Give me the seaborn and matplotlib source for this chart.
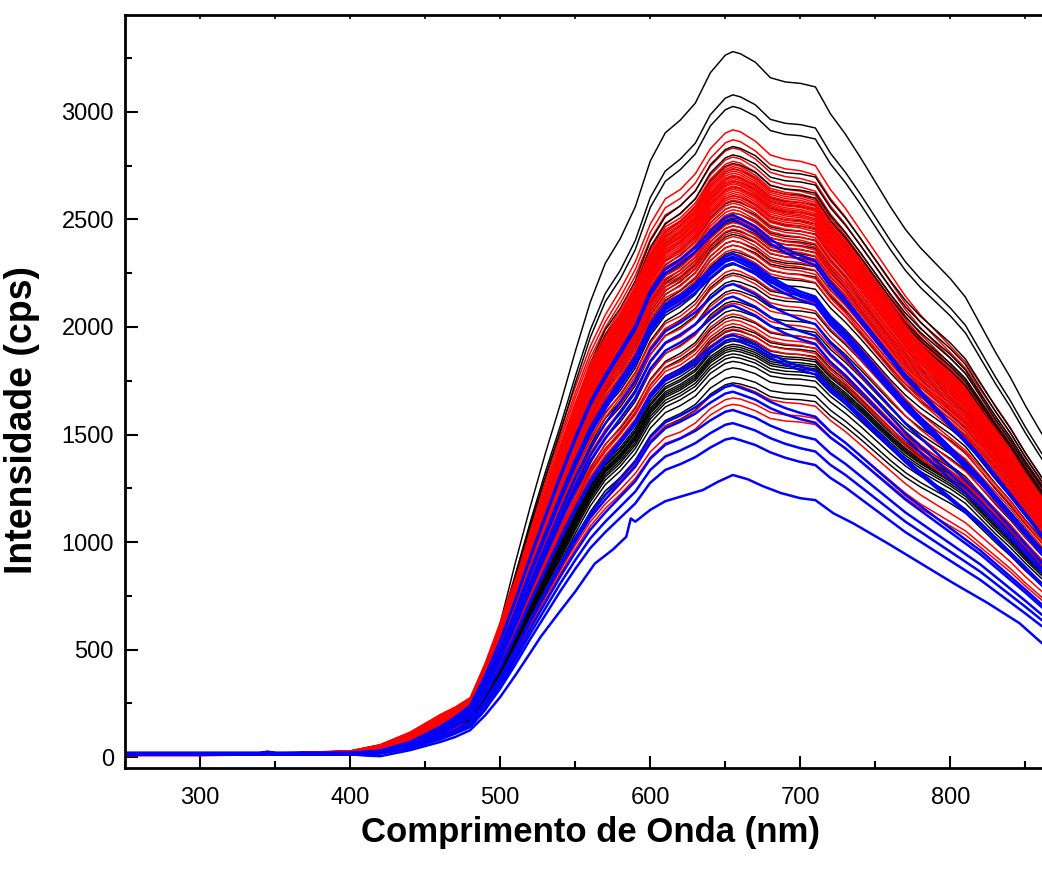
import numpy as np
import pandas as pd
import matplotlib
matplotlib.use("Agg")
import matplotlib.pyplot as plt
import seaborn as sns
from matplotlib.ticker import MultipleLocator

# comprimentos de onda (nm) dos pontos
WL = [250, 300, 340, 345, 350, 400, 420, 440, 460, 470, 480, 490, 500, 510,
      520, 530, 540, 550, 560, 570, 580, 590, 600, 610, 620, 630, 640, 650,
      655, 660, 670, 680, 690, 700, 710, 720, 730, 740, 750, 760, 770, 780,
      790, 800, 810, 820, 830, 840, 850, 861]

# perfis normalizados (pico = 1) por grupo
SHAPE_PRETO = [0.005, 0.005, 0.006, 0.007, 0.006, 0.009, 0.017, 0.034, 0.058, 0.068,
               0.080, 0.125, 0.190, 0.275, 0.355, 0.430, 0.500, 0.575, 0.645, 0.700,
               0.735, 0.780, 0.845, 0.885, 0.903, 0.927, 0.970, 0.995, 1.000, 0.997,
               0.985, 0.963, 0.957, 0.955, 0.950, 0.912, 0.883, 0.850, 0.815, 0.780,
               0.748, 0.722, 0.700, 0.678, 0.652, 0.613, 0.574, 0.538, 0.498, 0.458]
SHAPE_VERMELHO = [0.005, 0.005, 0.006, 0.007, 0.006, 0.010, 0.020, 0.040, 0.068, 0.080,
                  0.095, 0.150, 0.215, 0.290, 0.370, 0.445, 0.520, 0.590, 0.655, 0.705,
                  0.745, 0.790, 0.850, 0.890, 0.905, 0.930, 0.970, 0.995, 1.000, 0.997,
                  0.982, 0.960, 0.953, 0.950, 0.943, 0.905, 0.875, 0.840, 0.805, 0.770,
                  0.735, 0.705, 0.680, 0.655, 0.630, 0.595, 0.560, 0.525, 0.485, 0.445]
SHAPE_AZUL = [0.008, 0.008, 0.008, 0.010, 0.008, 0.008, 0.012, 0.028, 0.056, 0.074,
              0.095, 0.150, 0.215, 0.290, 0.370, 0.445, 0.520, 0.590, 0.655, 0.705,
              0.750, 0.795, 0.860, 0.900, 0.918, 0.940, 0.970, 0.995, 1.000, 0.993,
              0.978, 0.955, 0.938, 0.925, 0.915, 0.875, 0.845, 0.810, 0.775, 0.740,
              0.705, 0.675, 0.645, 0.615, 0.585, 0.555, 0.520, 0.485, 0.450, 0.410]

# intensidade de pico (cps) de cada espectro
PICOS_PRETO = [3280, 3079, 3025, 2839, 2800, 2760, 2735, 2700, 2680, 2650, 2610,
               2585, 2560, 2530, 2507, 2490, 2470, 2450, 2430, 2400, 2380, 2350,
               2320, 2290, 2250, 2215, 2172, 2120, 2079, 2048, 2001, 1985, 1960,
               1945, 1935, 1920, 1910, 1900, 1890, 1875, 1860, 1840, 1810, 1769, 1740]
PICOS_VERMELHO = [2916, 2870, 2832, 2790, 2770, 2755, 2745, 2735, 2725, 2715, 2705,
                  2698, 2690, 2680, 2672, 2665, 2655, 2648, 2640, 2630, 2620, 2610,
                  2600, 2590, 2575, 2560, 2545, 2530, 2515, 2500, 2485, 2470, 2455,
                  2440, 2420, 2400, 2380, 2360, 2340, 2265, 2240, 2200, 2160, 2110,
                  2060, 2033, 2015, 1990, 1970, 1730, 1670, 1640]
PICOS_AZUL = [2521, 2500, 2340, 2327, 2315, 2297, 2200, 2141, 2100, 1963, 1945,
              1730, 1699, 1614, 1553, 1484]

# espectro azul mais baixo (com o degrau perto de 590 nm), lido direto
WL_AZUL_BAIXO = [255, 300, 340, 345, 350, 400, 410, 420, 440, 460, 470, 480, 490,
                 500, 510, 520, 527, 540, 550, 563, 575, 584, 587, 590, 600, 610,
                 620, 635, 645, 655, 665, 675, 687, 700, 710, 722, 735, 758, 780,
                 802, 825, 846, 861]
INT_AZUL_BAIXO = [16, 16, 16, 19, 16, 14, 8, 5, 33, 71, 94, 126, 195, 280, 380, 485,
                  560, 680, 770, 900, 965, 1025, 1110, 1095, 1150, 1190, 1211, 1242,
                  1280, 1312, 1292, 1260, 1228, 1204, 1195, 1134, 1088, 995, 902, 809,
                  716, 623, 530]

COR = {"p": "black", "v": "#ff0000", "a": "#0000ff"}
LW = {"p": 1.05, "v": 1.1, "a": 1.8}


def espectro(pico, shape):
    return pd.DataFrame({"wl": WL, "int": [pico * s for s in shape]})


# ordem de desenho: preto e vermelho intercalados, azul por cima
curvas = []
for i in range(max(len(PICOS_PRETO), len(PICOS_VERMELHO))):
    if i < len(PICOS_PRETO):
        curvas.append(("p", espectro(PICOS_PRETO[i], SHAPE_PRETO)))
    if i < len(PICOS_VERMELHO):
        curvas.append(("v", espectro(PICOS_VERMELHO[i], SHAPE_VERMELHO)))
for p in PICOS_AZUL:
    curvas.append(("a", espectro(p, SHAPE_AZUL)))
curvas.append(("a", pd.DataFrame({"wl": WL_AZUL_BAIXO, "int": INT_AZUL_BAIXO})))

sns.set_style("ticks")
plt.rcParams["font.family"] = ["Liberation Sans", "DejaVu Sans"]
plt.rcParams.update({"text.color": "black", "axes.labelcolor": "black",
                     "xtick.color": "black", "ytick.color": "black"})

fig = plt.figure(figsize=(10.42, 8.74), dpi=100)
ax = fig.add_axes([0.12, 0.1213, 0.88, 0.8615])

for g, df in curvas:
    sns.lineplot(data=df, x="wl", y="int", estimator=None, color=COR[g],
                 linewidth=LW[g], ax=ax, legend=False, sort=False)

ax.set_xlim(250, 861)
ax.set_ylim(-50, 3450)
ax.xaxis.set_major_locator(MultipleLocator(100))
ax.xaxis.set_minor_locator(MultipleLocator(50))
ax.yaxis.set_major_locator(MultipleLocator(500))
ax.yaxis.set_minor_locator(MultipleLocator(250))
ax.set_xticks([300, 400, 500, 600, 700, 800])
ax.tick_params(which="both", direction="in", width=1.5, color="black", labelsize=17,
               labelcolor="black", right=False, top=False)
ax.tick_params(which="major", length=9)
ax.tick_params(which="minor", length=5)
ax.tick_params(axis="y", pad=8)
ax.tick_params(axis="x", pad=14)

sec = ax.secondary_xaxis("top")
sec.set_xticks(np.arange(300, 861, 50))
sec.tick_params(direction="in", length=3, width=1.2, labeltop=False)

for nome in ["left", "bottom", "top"]:
    ax.spines[nome].set_linewidth(2)
    ax.spines[nome].set_color("black")
sec.spines["top"].set_visible(False)
ax.spines["right"].set_visible(False)

ax.set_xlabel("Comprimento de Onda (nm)", fontsize=25, fontweight="bold", color="black")
ax.set_ylabel("Intensidade (cps)", fontsize=27, fontweight="bold", color="black")
ax.xaxis.set_label_coords(0.508, -0.064)
ax.yaxis.set_label_coords(-0.093, 0.462)

fig.savefig("out.png", dpi=100)
